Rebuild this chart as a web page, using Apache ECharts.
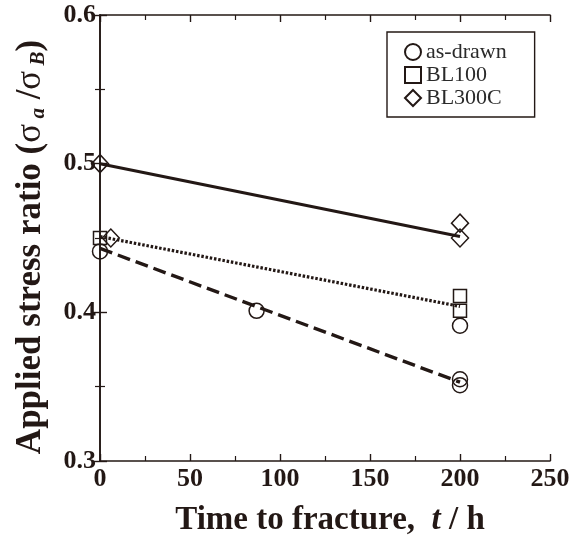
<!DOCTYPE html>
<html><head><meta charset="utf-8">
<script src="https://cdn.jsdelivr.net/npm/echarts@6/dist/echarts.min.js"></script>
<style>html,body{margin:0;padding:0;background:#fff}#c{width:579px;height:542px}</style>
</head><body><div id="c"></div>
<script>
const asDrawn = [[0, 0.441], [87, 0.401], [200, 0.391], [200, 0.355], [200, 0.351]];
const bl100 = [[0, 0.450], [200, 0.411], [200, 0.401]];
const bl300c = [[0, 0.500], [6, 0.450], [200, 0.460], [200, 0.450]];
const fitAsDrawn = [[0, 0.443], [200, 0.353]];
const fitBL100 = [[0, 0.451], [200, 0.404]];
const fitBL300C = [[0, 0.500], [200, 0.451]];
const xTicks = [0, 50, 100, 150, 200, 250];
const yTicks = [0.3, 0.4, 0.5, 0.6];

const ink = '#231815';
const serif = '"Liberation Serif", "DejaVu Serif", serif';
const chart = echarts.init(document.getElementById('c'));
const mk = {color: 'rgba(255,255,255,0)', borderColor: ink, borderWidth: 1.5, opacity: 1};
const axisCommon = {
  axisLine: {show: true, lineStyle: {color: ink, width: 1.6}},
  axisTick: {show: true, inside: true, length: 7, lineStyle: {color: ink, width: 1.4}},
  minorTick: {show: true, splitNumber: 2, length: 5, lineStyle: {color: ink, width: 1.2}},
  splitLine: {show: false}
};
chart.setOption({
  animation: false,
  grid: {left: 100, top: 15, right: 29, bottom: 77, containLabel: false},
  legend: {
    orient: 'vertical', left: 387, top: 32,
    data: ['as-drawn', 'BL100', 'BL300C'],
    borderColor: ink, borderWidth: 1.4,
    padding: [9, 28, 8, 17], itemGap: 1, itemWidth: 16, itemHeight: 16,
    textStyle: {fontFamily: serif, fontSize: 22, color: '#2a2a2a', lineHeight: 22}
  },
  xAxis: [
    Object.assign({}, axisCommon, {
      type: 'value', min: 0, max: 250, interval: 50,
      name: '{b|Time to fracture,  }{i|t}{b| / h}', nameLocation: 'middle', nameGap: 43,
      nameTextStyle: {rich: {
        b: {fontFamily: serif, fontWeight: 'bold', fontSize: 33, color: ink},
        i: {fontFamily: serif, fontWeight: 'bold', fontStyle: 'italic', fontSize: 33, color: ink}
      }, padding: [0, 0, 0, 10]},
      axisLabel: {fontFamily: serif, fontWeight: 'bold', fontSize: 26, color: ink, margin: 5,
        formatter: v => xTicks.includes(v) ? String(v) : ''}
    }),
    Object.assign({}, axisCommon, {
      type: 'value', min: 0, max: 250, interval: 50, position: 'top',
      axisLabel: {show: false}
    })
  ],
  yAxis: [
    Object.assign({}, axisCommon, {
      type: 'value', min: 0.3, max: 0.6, interval: 0.1,
      name: '{b|Applied stress ratio (}{g|σ}{s| a}{b| /}{g|σ}{s| B}{b|)}',
      nameLocation: 'middle', nameGap: 51, nameRotate: 90,
      nameTextStyle: {rich: {
        b: {fontFamily: serif, fontWeight: 'bold', fontSize: 35, color: ink},
        g: {fontFamily: serif, fontSize: 35, color: ink},
        s: {fontFamily: serif, fontWeight: 'bold', fontStyle: 'italic', fontSize: 21, color: ink, padding: [16, 0, 0, 0]}
      }, padding: [0, 18, 0, 0]},
      axisLabel: {fontFamily: serif, fontWeight: 'bold', fontSize: 26, color: ink, margin: 4,
        formatter: v => v.toFixed(1)}
    }),
    Object.assign({}, axisCommon, {
      type: 'value', min: 0.3, max: 0.6, interval: 0.1, position: 'right',
      axisLabel: {show: false}
    })
  ],
  series: [
    {name: 'fit BL300C', type: 'line', data: fitBL300C, symbol: 'none', silent: true,
      lineStyle: {color: ink, width: 3, type: 'solid'}},
    {name: 'fit BL100', type: 'line', data: fitBL100, symbol: 'none', silent: true,
      lineStyle: {color: ink, width: 3.2, type: [2.5, 1.8]}},
    {name: 'fit as-drawn', type: 'line', data: fitAsDrawn, symbol: 'none', silent: true,
      lineStyle: {color: ink, width: 3.4, type: [13, 6]}},
    {name: 'as-drawn', type: 'scatter', data: asDrawn, symbol: 'circle', symbolSize: 15, itemStyle: mk, z: 5},
    {name: 'BL100', type: 'scatter', data: bl100, symbol: 'rect', symbolSize: 13, itemStyle: mk, z: 5},
    {name: 'BL300C', type: 'scatter', data: bl300c, symbol: 'diamond', symbolSize: [17, 18], itemStyle: mk, z: 5}
  ]
});
</script></body></html>
